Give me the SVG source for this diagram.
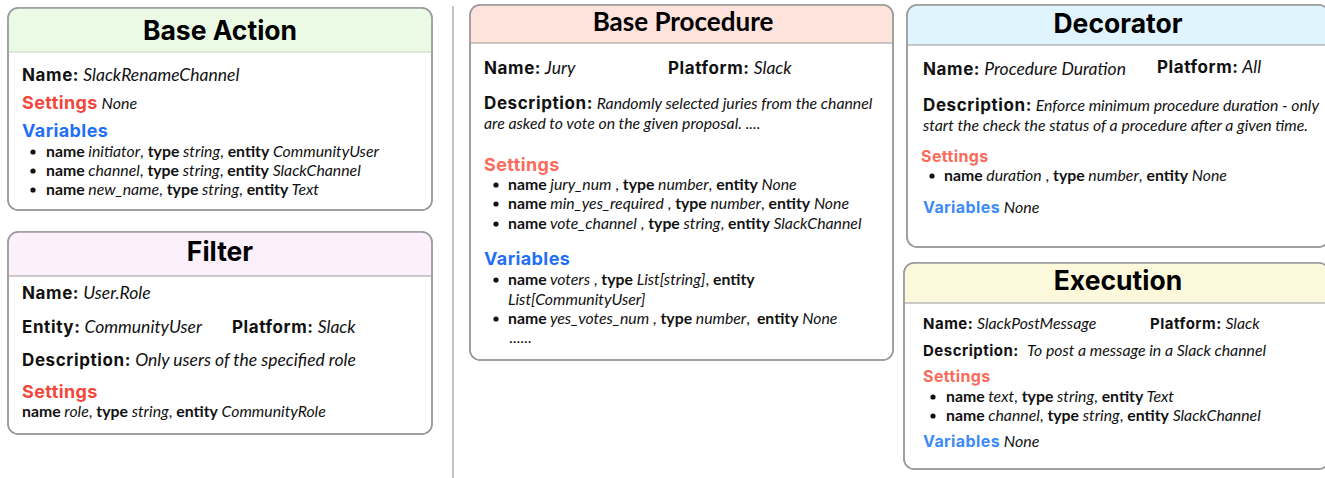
<svg xmlns="http://www.w3.org/2000/svg" width="1325" height="478" viewBox="0 0 1325 478">
<style>
.card{fill:#fff;stroke:#9a9a9a;stroke-width:1.5}
.title{font-family:Inter,"Liberation Sans",sans-serif;font-weight:700;font-size:26.5px;fill:#000;text-anchor:middle}
.titleL{font-family:Lato,"Liberation Sans",sans-serif;font-weight:700;font-size:26px;fill:#000;text-anchor:middle}
.t{font-family:Lato,"Liberation Sans",sans-serif;font-size:17.5px;fill:#111}
.s{font-family:Lato,"Liberation Sans",sans-serif;font-size:15.8px;fill:#111}
.lab{font-family:Inter,"Liberation Sans",sans-serif;font-weight:700;font-size:17px;letter-spacing:0.6px}
.labS{font-family:Inter,"Liberation Sans",sans-serif;font-weight:700;font-size:15px;letter-spacing:0.5px}
.i{font-style:italic}
.b{font-weight:700}
.red{font-family:Inter,"Liberation Sans",sans-serif;font-weight:700;font-size:18px;letter-spacing:0.4px;fill:#f2473a}
.sal{font-family:Inter,"Liberation Sans",sans-serif;font-weight:700;font-size:18px;letter-spacing:0.4px;fill:#fb6b5b}
.salS{font-family:Inter,"Liberation Sans",sans-serif;font-weight:700;font-size:16px;letter-spacing:0.4px;fill:#fb6b5b}
.blue{font-family:Inter,"Liberation Sans",sans-serif;font-weight:700;font-size:18px;letter-spacing:0.4px;fill:#1f70f5}
.blue2{font-family:Inter,"Liberation Sans",sans-serif;font-weight:700;font-size:16px;letter-spacing:0.4px;fill:#3d8bf6}
.dot{fill:#111}
</style>
<line x1="453" y1="6" x2="453" y2="478" stroke="#c4c4c4" stroke-width="2"/>
<g id="connectors"></g>

<g id="base-action">
<rect class="card" x="8" y="8" width="424" height="202" rx="10"/>
<path d="M8.75 52 V18 a10 10 0 0 1 10 -10 H421.25 a10 10 0 0 1 10 10 V52 Z" fill="#ebfae4"/>
<line x1="8" y1="52" x2="432" y2="52" stroke="#c8d8c4" stroke-width="1.2"/>
<rect x="8" y="8" width="424" height="202" rx="10" fill="none" stroke="#9a9a9a" stroke-width="1.5"/>
<text class="title" x="220" y="40">Base Action</text>
<text class="t" x="22" y="81"><tspan class="lab">Name:</tspan><tspan class="i"> SlackRenameChannel</tspan></text>
<text class="t" x="22" y="109"><tspan class="red">Settings</tspan><tspan class="i" font-size="16"> None</tspan></text>
<text class="blue" x="22" y="137">Variables</text>
<circle class="dot" cx="33" cy="152" r="2.6"/>
<circle class="dot" cx="33" cy="171" r="2.6"/>
<circle class="dot" cx="33" cy="190" r="2.6"/>
<text class="s" x="46" y="157"><tspan class="b">name</tspan><tspan class="i"> initiator</tspan>, <tspan class="b">type</tspan><tspan class="i"> string</tspan>, <tspan class="b">entity</tspan><tspan class="i"> CommunityUser</tspan></text>
<text class="s" x="46" y="176"><tspan class="b">name</tspan><tspan class="i"> channel</tspan>, <tspan class="b">type</tspan><tspan class="i"> string</tspan>, <tspan class="b">entity</tspan><tspan class="i"> SlackChannel</tspan></text>
<text class="s" x="46" y="195"><tspan class="b">name</tspan><tspan class="i"> new_name</tspan>, <tspan class="b">type</tspan><tspan class="i"> string</tspan>, <tspan class="b">entity</tspan><tspan class="i"> Text</tspan></text>
</g>

<g id="filter">
<rect class="card" x="8" y="232" width="424" height="202" rx="10"/>
<path d="M8.75 276 V242 a10 10 0 0 1 10 -10 H421.25 a10 10 0 0 1 10 10 V276 Z" fill="#fcf0fc"/>
<line x1="8" y1="276" x2="432" y2="276" stroke="#9a9a9a" stroke-width="1.2"/>
<rect x="8" y="232" width="424" height="202" rx="10" fill="none" stroke="#9a9a9a" stroke-width="1.5"/>
<text class="title" x="220" y="261">Filter</text>
<text class="t" x="22" y="299"><tspan class="lab">Name:</tspan><tspan class="i"> User.Role</tspan></text>
<text class="t" x="22" y="333"><tspan class="lab">Entity:</tspan><tspan class="i"> CommunityUser</tspan></text>
<text class="t" x="232" y="333"><tspan class="lab">Platform:</tspan><tspan class="i"> Slack</tspan></text>
<text class="t" x="22" y="366"><tspan class="lab">Description:</tspan><tspan class="i"> Only users of the specified role</tspan></text>
<text class="red" x="22" y="398">Settings</text>
<text class="s" x="22" y="417"><tspan class="b">name</tspan><tspan class="i"> role</tspan>, <tspan class="b">type</tspan><tspan class="i"> string</tspan>, <tspan class="b">entity</tspan><tspan class="i"> CommunityRole</tspan></text>
</g>

<g id="base-procedure">
<rect class="card" x="470" y="5" width="423" height="355" rx="10"/>
<path d="M470.75 43 V15 a10 10 0 0 1 10 -10 H882.25 a10 10 0 0 1 10 10 V43 Z" fill="#fde3dc"/>
<line x1="470" y1="43" x2="893" y2="43" stroke="#9a9a9a" stroke-width="1.2"/>
<rect x="470" y="5" width="423" height="355" rx="10" fill="none" stroke="#9a9a9a" stroke-width="1.5"/>
<text class="titleL" x="683" y="31">Base Procedure</text>
<text class="t" x="484" y="74"><tspan class="lab">Name:</tspan><tspan class="i"> Jury</tspan></text>
<text class="t" x="668" y="74"><tspan class="lab">Platform:</tspan><tspan class="i"> Slack</tspan></text>
<text class="t" x="484" y="109"><tspan class="lab">Description:</tspan><tspan class="i" font-size="15.8"> Randomly selected juries from the channel</tspan></text>
<text class="s i" x="484" y="129">are asked to vote on the given proposal. ....</text>
<text class="sal" x="484" y="171">Settings</text>
<circle class="dot" cx="496" cy="185" r="2.6"/>
<circle class="dot" cx="496" cy="204" r="2.6"/>
<circle class="dot" cx="496" cy="224" r="2.6"/>
<text class="s" x="508" y="190"><tspan class="b">name</tspan><tspan class="i"> jury_num </tspan>, <tspan class="b">type</tspan><tspan class="i"> number</tspan>, <tspan class="b">entity</tspan><tspan class="i"> None</tspan></text>
<text class="s" x="508" y="209"><tspan class="b">name</tspan><tspan class="i"> min_yes_required </tspan>, <tspan class="b">type</tspan><tspan class="i"> number</tspan>, <tspan class="b">entity</tspan><tspan class="i"> None</tspan></text>
<text class="s" x="508" y="229"><tspan class="b">name</tspan><tspan class="i"> vote_channel </tspan>, <tspan class="b">type</tspan><tspan class="i"> string</tspan>, <tspan class="b">entity</tspan><tspan class="i"> SlackChannel</tspan></text>
<text class="blue" x="484" y="265">Variables</text>
<circle class="dot" cx="496" cy="280" r="2.6"/>
<circle class="dot" cx="496" cy="319" r="2.6"/>
<text class="s" x="508" y="285"><tspan class="b">name</tspan><tspan class="i"> voters </tspan>, <tspan class="b">type</tspan><tspan class="i"> List[string]</tspan>, <tspan class="b">entity</tspan></text>
<text class="s i" x="508" y="305">List[CommunityUser]</text>
<text class="s" x="508" y="324"><tspan class="b">name</tspan><tspan class="i"> yes_votes_num </tspan>, <tspan class="b">type</tspan><tspan class="i"> number</tspan>, <tspan class="b" dx="3">entity</tspan><tspan class="i"> None</tspan></text>
<text class="s" x="509" y="343">......</text>
</g>

<g id="decorator">
<rect class="card" x="907" y="5" width="422" height="242" rx="10"/>
<path d="M907.75 45 V15 a10 10 0 0 1 10 -10 H1318.25 a10 10 0 0 1 10 10 V45 Z" fill="#dff4fd"/>
<line x1="907" y1="45" x2="1329" y2="45" stroke="#9a9a9a" stroke-width="1.2"/>
<rect x="907" y="5" width="422" height="242" rx="10" fill="none" stroke="#9a9a9a" stroke-width="1.5"/>
<text class="title" x="1118" y="33">Decorator</text>
<text class="t" x="923" y="75"><tspan class="lab">Name:</tspan><tspan class="i"> Procedure Duration</tspan></text>
<text class="t" x="1157" y="73"><tspan class="lab">Platform:</tspan><tspan class="i"> All</tspan></text>
<text class="t" x="923" y="111"><tspan class="lab">Description:</tspan><tspan class="i" font-size="15.8"> Enforce minimum procedure duration - only</tspan></text>
<text class="s i" x="923" y="131">start the check the status of a procedure after a given time.</text>
<text class="salS" x="921" y="162">Settings</text>
<circle class="dot" cx="932" cy="176" r="2.6"/>
<text class="s" x="944" y="181"><tspan class="b">name</tspan><tspan class="i"> duration </tspan>, <tspan class="b">type</tspan><tspan class="i"> number</tspan>, <tspan class="b">entity</tspan><tspan class="i"> None</tspan></text>
<text class="t" x="923" y="213"><tspan class="blue2">Variables</tspan><tspan class="i" font-size="16"> None</tspan></text>
</g>

<g id="execution">
<rect class="card" x="904" y="263" width="425" height="206" rx="10"/>
<path d="M904.75 303 V273 a10 10 0 0 1 10 -10 H1318.25 a10 10 0 0 1 10 10 V303 Z" fill="#fcf8dc"/>
<line x1="904" y1="303" x2="1329" y2="303" stroke="#9a9a9a" stroke-width="1.2"/>
<rect x="904" y="263" width="425" height="206" rx="10" fill="none" stroke="#9a9a9a" stroke-width="1.5"/>
<text class="title" x="1118" y="290">Execution</text>
<text class="s" x="923" y="329"><tspan class="labS">Name:</tspan><tspan class="i"> SlackPostMessage</tspan></text>
<text class="s" x="1150" y="329"><tspan class="labS">Platform:</tspan><tspan class="i"> Slack</tspan></text>
<text class="s" x="923" y="356"><tspan class="labS">Description:</tspan><tspan class="i" dx="5"> To post a message in a Slack channel</tspan></text>
<text class="salS" x="923" y="382">Settings</text>
<circle class="dot" cx="933" cy="397" r="2.6"/>
<circle class="dot" cx="933" cy="416" r="2.6"/>
<text class="s" x="946" y="402"><tspan class="b">name</tspan><tspan class="i"> text</tspan>, <tspan class="b">type</tspan><tspan class="i"> string</tspan>, <tspan class="b">entity</tspan><tspan class="i"> Text</tspan></text>
<text class="s" x="946" y="421"><tspan class="b">name</tspan><tspan class="i"> channel</tspan>, <tspan class="b">type</tspan><tspan class="i"> string</tspan>, <tspan class="b">entity</tspan><tspan class="i"> SlackChannel</tspan></text>
<text class="t" x="923" y="447"><tspan class="blue2">Variables</tspan><tspan class="i" font-size="16"> None</tspan></text>
</g>
</svg>
